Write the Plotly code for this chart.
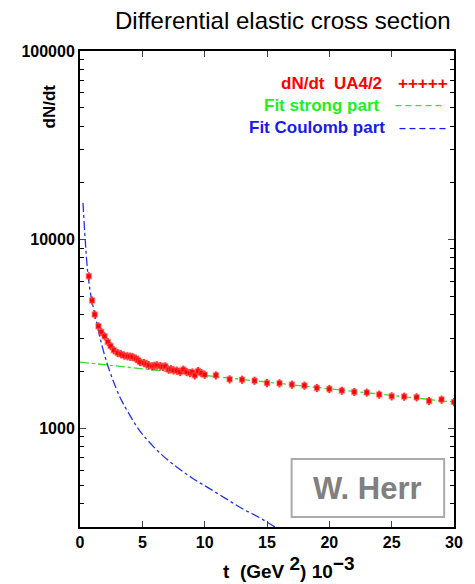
import plotly.graph_objects as go

# ---- data ----
t_data = [0.71, 0.97, 1.18, 1.48, 1.71, 1.97, 2.23, 2.45, 2.71, 3.02, 3.29, 3.55, 3.81, 4.01,
          4.21, 4.48, 4.65, 4.82, 5.13, 5.33, 5.53, 5.79, 5.98, 6.18, 6.45, 6.64, 6.84, 7.11,
          7.30, 7.50, 7.76, 8.03, 8.29, 8.55, 8.82, 9.01, 9.21, 9.47, 9.73, 10.0,
          10.9, 12.0, 13.0, 14.0, 15.0, 16.0, 17.0, 18.0, 19.0, 20.0, 21.0, 22.0, 23.0,
          24.0, 25.0, 26.0, 27.0, 28.0, 29.0, 30.0]
dndt_data = [6400, 4760, 4010, 3475, 3243, 3077, 2870, 2735, 2596, 2510, 2473, 2433, 2412, 2400,
             2390, 2342, 2300, 2249, 2220, 2190, 2158, 2133, 2150, 2158, 2140, 2120, 2133, 2048,
             2060, 2031, 2024, 1990, 2048, 1990, 1965, 1980, 1910, 2014, 1965, 1926,
             1910, 1820, 1812, 1790, 1738, 1734, 1706, 1686, 1638, 1618, 1585, 1560, 1548,
             1511, 1479, 1473, 1461, 1397, 1420, 1378]

t_strong = [0.0, 30.0]
fit_strong = [2245, 1377]

t_coul = [0.24, 0.42, 0.63, 0.89, 1.21, 1.7, 2.24, 2.76, 3.3, 3.82, 4.5, 5.13, 6.45, 7.76,
          9.08, 10.4, 11.7, 13.03, 14.34, 15.66, 16.5]
fit_coul = [15670, 9930, 6620, 4980, 3980, 2850, 2140, 1720, 1420, 1230, 1035, 910, 735, 624,
            541, 479, 424, 375, 338, 300, 282]

x_ticks = [0, 5, 10, 15, 20, 25, 30]
y_ticks = [1000, 10000, 100000]
y_ticklabels = ["1000", "10000", "100000"]

FONT = "Liberation Sans, Arial, Helvetica, sans-serif"

fig = go.Figure()

fig.add_trace(go.Scatter(
    x=t_strong, y=fit_strong, mode="lines",
    line=dict(color="#33dd33", width=1.3, dash="dashdot"), showlegend=False))

fig.add_trace(go.Scatter(
    x=t_coul, y=fit_coul, mode="lines", line_shape="spline",
    line=dict(color="#2233ee", width=1.3, dash="dashdot"), showlegend=False))

fig.add_trace(go.Scatter(
    x=t_data, y=dndt_data, mode="markers",
    marker=dict(symbol="square", size=5, color="red",
                line=dict(color="rgba(255,90,90,0.5)", width=1.5)),
    error_y=dict(type="percent", value=5, color="rgba(255,0,0,0.85)", thickness=2, width=0),
    error_x=dict(type="constant", value=0.14, color="rgba(255,0,0,0.85)", thickness=2, width=0),
    showlegend=False))

W, H = 475, 584
L, R, T, B = 80, 15, 51, 57


def px(x):
    return (x - L) / (W - L - R)


def py(y):
    return (H - B - y) / (H - T - B)


fig.update_layout(
    width=W, height=H,
    margin=dict(l=L, r=R, t=T, b=B),
    paper_bgcolor="white", plot_bgcolor="white",
    font=dict(family=FONT, color="black"),
    xaxis=dict(range=[0, 30], tickvals=x_ticks, ticks="inside", ticklen=6, tickwidth=1.2,
               showline=True, linewidth=2, linecolor="black", mirror="allticks",
               showgrid=False, zeroline=False,
               tickfont=dict(family=FONT, size=16, color="black", weight="bold")),
    yaxis=dict(type="log", range=[2.4771, 5], tickvals=y_ticks, ticktext=y_ticklabels,
               ticks="inside", ticklen=6, tickwidth=1.2,
               minor=dict(ticks="inside", ticklen=4, tickwidth=1, tickcolor="black",
                          dtick="D1", showgrid=False),
               showline=True, linewidth=2, linecolor="black", mirror="allticks",
               showgrid=False, zeroline=False,
               tickfont=dict(family=FONT, size=16, color="black", weight="bold")),
)

fig.add_shape(type="rect", xref="paper", yref="paper",
              x0=px(295), x1=px(450), y0=py(517), y1=py(459),
              line=dict(color="#aaaaaa", width=2), fillcolor="white", layer="above")

ann = []
ann.append(dict(text="Differential elastic cross section", x=px(286), y=py(20),
                xref="paper", yref="paper", showarrow=False, xanchor="center", yanchor="middle",
                font=dict(family=FONT, size=24, color="black")))
ann.append(dict(text="<b>dN/dt</b>", x=px(48), y=py(107), xref="paper", yref="paper",
                showarrow=False, textangle=-90, xanchor="center", yanchor="middle",
                font=dict(family=FONT, size=17, color="black")))
ann.append(dict(text="<b>t  (GeV <sup><span style='font-size:19px'>2</span></sup>) 10"
                     "<sup><span style='font-size:19px'>−3</span></sup></b>",
                x=px(292), y=py(584), xref="paper", yref="paper", showarrow=False,
                xanchor="center", yanchor="bottom",
                font=dict(family=FONT, size=19, color="black")))
# legend texts
legend_rows = [("dN/dt  UA4/2", "red", 389, 83, "+++++", 401),
               ("Fit strong part", "#22ee22", 387, 105, "– – – – –", 398),
               ("Fit Coulomb part", "#1a1aee", 392, 128, "– – – – –", 402)]
for txt, col, xr, yc, sample, xs in legend_rows:
    ann.append(dict(text="<b>" + txt + "</b>", x=px(xr), y=py(yc), xref="paper", yref="paper",
                    showarrow=False, xanchor="right", yanchor="middle",
                    font=dict(family=FONT, size=17, color=col)))
    ann.append(dict(text="<b>" + sample + "</b>", x=px(xs), y=py(yc), xref="paper",
                    yref="paper", showarrow=False, xanchor="left", yanchor="middle",
                    font=dict(family=FONT, size=17 if sample.startswith("+") else 12,
                              color=col)))
ann.append(dict(text="<b>W. Herr</b>", x=px(372), y=py(488), xref="paper", yref="paper",
                showarrow=False, xanchor="center", yanchor="middle",
                font=dict(family=FONT, size=31, color="#808080")))
fig.update_layout(annotations=ann)

fig.write_html("out.html")
